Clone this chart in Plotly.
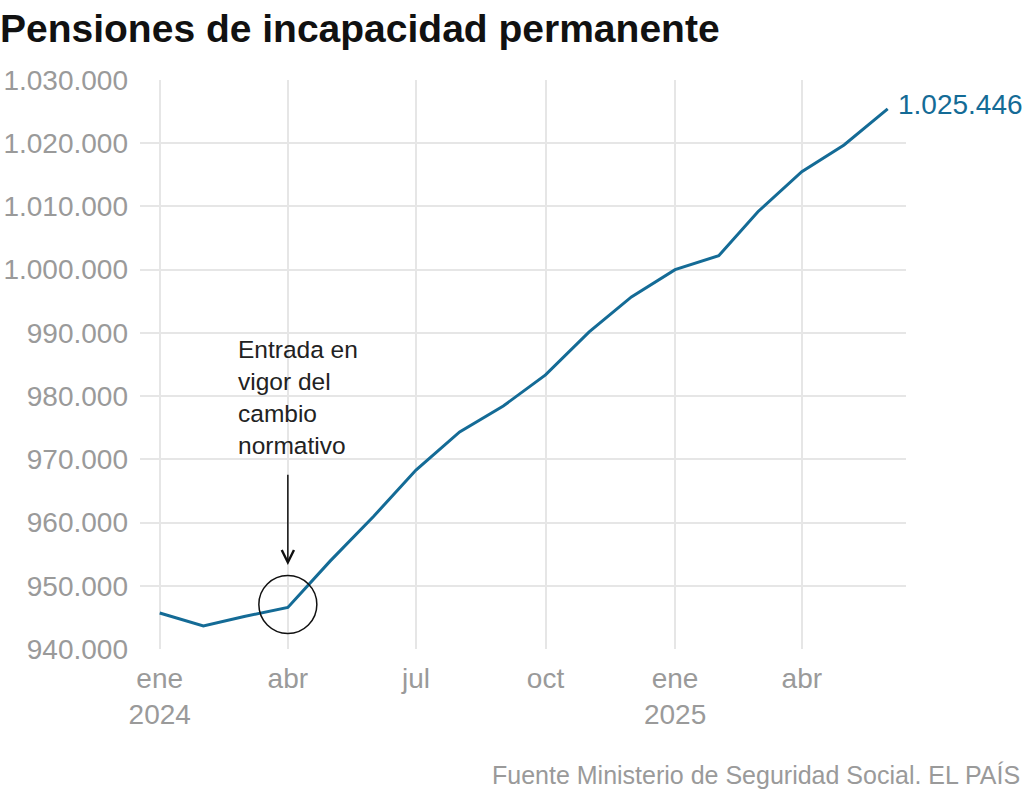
import plotly.graph_objects as go

months = ["2024-01-01", "2024-02-01", "2024-03-01", "2024-04-01", "2024-05-01", "2024-06-01",
          "2024-07-01", "2024-08-01", "2024-09-01", "2024-10-01", "2024-11-01", "2024-12-01",
          "2025-01-01", "2025-02-01", "2025-03-01", "2025-04-01", "2025-05-01", "2025-06-01"]
pensiones = [945700, 943640, 945140, 946570, 953900, 961000,
             968300, 974330, 978440, 983350, 990150, 995690,
             1000000, 1002200, 1009200, 1015500, 1019720, 1025446]

x_tickvals = ["2024-01-01", "2024-04-01", "2024-07-01", "2024-10-01", "2025-01-01", "2025-04-01"]
x_ticktext = ["ene<br>2024", "abr", "jul", "oct", "ene<br>2025", "abr"]
y_tickvals = [940000, 950000, 960000, 970000, 980000, 990000, 1000000, 1010000, 1020000, 1030000]
y_ticktext = ["940.000", "950.000", "960.000", "970.000", "980.000", "990.000",
              "1.000.000", "1.010.000", "1.020.000", "1.030.000"]

LINE = "#146b96"
GREY = "#9a9a9a"
FONT = "Liberation Sans"

fig = go.Figure()
fig.add_trace(go.Scatter(x=months, y=pensiones, mode="lines",
                         line=dict(color=LINE, width=3), hoverinfo="skip"))

fig.update_layout(
    width=1024, height=793,
    margin=dict(l=140, r=118, t=80, b=144),
    paper_bgcolor="white", plot_bgcolor="white",
    showlegend=False,
    font=dict(family=FONT, color=GREY),
    title=dict(text="<b>Pensiones de incapacidad permanente</b>",
               font=dict(family=FONT, size=39, color="#111111"),
               xref="container", x=0.0, xanchor="left",
               yref="container", y=0.982, yanchor="top", pad=dict(l=0, t=0)),
)

fig.update_xaxes(type="date", range=["2023-12-18", "2025-06-14"],
                 tickvals=x_tickvals, ticktext=x_ticktext,
                 showgrid=True, gridcolor="#e6e6e6", gridwidth=1.5,
                 zeroline=False, showline=False, ticks="", automargin=False,
                 ticklabelstandoff=10,
                 tickfont=dict(family=FONT, size=28, color=GREY))
fig.update_yaxes(range=[940000, 1030000],
                 tickvals=y_tickvals, ticktext=y_ticktext,
                 showgrid=True, gridcolor="#e6e6e6", gridwidth=1.5,
                 zeroline=False, showline=False, ticks="", automargin=False,
                 ticklabelstandoff=11,
                 tickfont=dict(family=FONT, size=28, color=GREY))

# end label
fig.add_annotation(x=months[-1], y=pensiones[-1], text="1.025.446",
                   showarrow=False, xanchor="left", yanchor="middle", xshift=8, yshift=4,
                   font=dict(family=FONT, size=28, color=LINE))

# note text
fig.add_annotation(xref="paper", yref="paper", x=(236 - 140) / 766, y=(649 - 334) / 569,
                   text="Entrada en<br>vigor del<br>cambio<br>normativo",
                   showarrow=False, xanchor="left", yanchor="top", align="left",
                   font=dict(family=FONT, size=24.5, color="#222222"))

# arrow
fig.add_annotation(x="2024-04-01", y=953300, ax="2024-04-01", ay=967800,
                   xref="x", yref="y", axref="x", ayref="y", text="",
                   showarrow=True, arrowhead=5, arrowsize=1.6, arrowwidth=1.5,
                   arrowcolor="#111111")

# circle around the change point
fig.add_shape(type="circle", xref="x", yref="y",
              xsizemode="pixel", ysizemode="pixel",
              xanchor="2024-04-01", yanchor=pensiones[3],
              x0=-29, x1=29, y0=-26, y1=32,
              line=dict(color="#111111", width=1.5), fillcolor="rgba(0,0,0,0)")

# source
fig.add_annotation(xref="paper", yref="paper", x=(1022 - 140) / 766, y=(649 - 775) / 569,
                   text="Fuente Ministerio de Seguridad Social. EL PAÍS",
                   showarrow=False, xanchor="right", yanchor="middle",
                   font=dict(family=FONT, size=25, color=GREY))

fig.write_html("out.html")
